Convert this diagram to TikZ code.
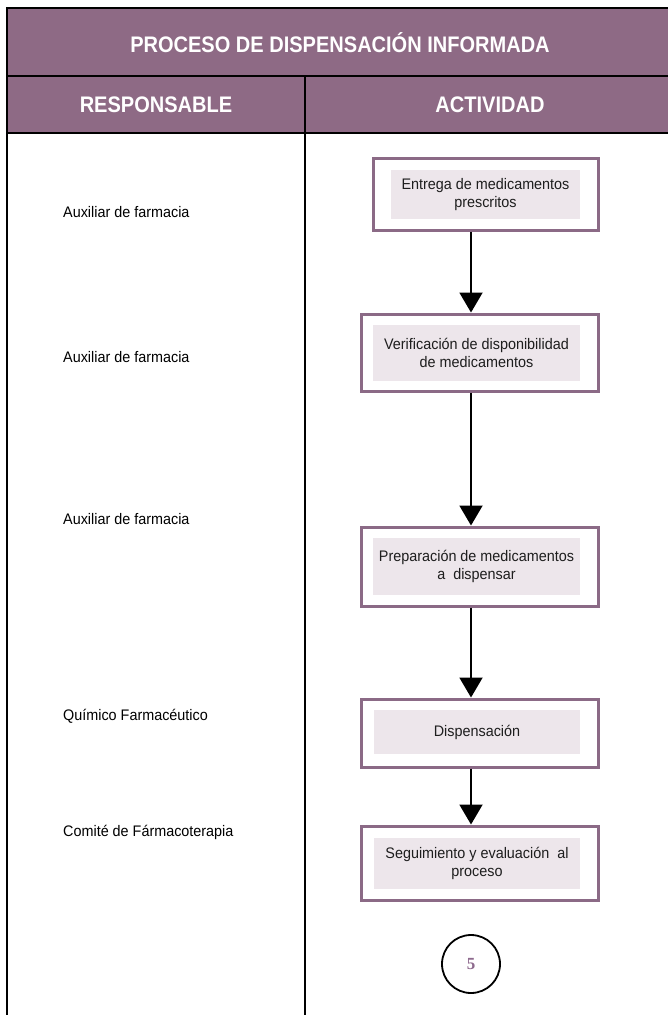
\documentclass[tikz,border=0pt]{standalone}
\usepackage{fontspec}
\setmainfont{Liberation Sans}
\newfontfamily\bodyfont[FakeStretch=0.94]{Liberation Sans}
\newfontfamily\headfont[FakeStretch=0.89]{Liberation Sans}
\newfontfamily\numfont{Liberation Serif}
\usetikzlibrary{arrows.meta}

\definecolor{headpurple}{RGB}{142,106,133}
\definecolor{framepurple}{RGB}{139,106,134}
\definecolor{innerfill}{RGB}{237,230,235}
\definecolor{textdark}{RGB}{30,30,30}
\definecolor{numpurple}{RGB}{142,106,142}

\tikzset{
  tableline/.style={line width=2.5pt, black},
  headtext/.style={text=white, font=\headfont\bfseries\fontsize{22.5}{27}\selectfont, inner sep=0pt},
  roletext/.style={anchor=west, text=black, font=\bodyfont\fontsize{15.3}{18}\selectfont, inner sep=0pt},
  stepframe/.style={draw=framepurple, line width=3pt, fill=white, inner sep=0pt},
  stepinner/.style={fill=innerfill, inner sep=0pt, align=center, text=textdark,
    font=\bodyfont\fontsize{15.3}{18.5}\selectfont},
  flowarrow/.style={line width=2pt, black, -{Triangle[width=23pt,length=20pt]}},
  pagemark/.style={circle, draw=black, line width=1.8pt, minimum size=58pt, inner sep=0pt,
    text=numpurple, font=\numfont\bfseries\fontsize{17}{20}\selectfont}
}

\begin{document}
\begin{tikzpicture}[x=1pt,y=-1pt]
  \clip (0,0) rectangle (668,1015);
  \fill[white] (0,0) rectangle (668,1015);

  % header band
  \fill[headpurple] (7,8) rectangle (700,133);
  \draw[tableline] (7,1030) -- (7,8) -- (700,8);
  \draw[tableline] (7,76) -- (700,76);
  \draw[tableline] (7,133) -- (700,133);
  \draw[tableline] (305,76) -- (305,1030);

  \node[headtext] (title) at (340,43) {PROCESO DE DISPENSACIÓN INFORMADA};
  \node[headtext] (resp) at (156,105) {RESPONSABLE};
  \node[headtext] (act) at (490,105) {ACTIVIDAD};

  % responsible roles
  \node[roletext] (r1) at (63,212) {Auxiliar de farmacia};
  \node[roletext] (r2) at (63,357) {Auxiliar de farmacia};
  \node[roletext] (r3) at (63,519) {Auxiliar de farmacia};
  \node[roletext] (r4) at (63,716) {Químico Farmacéutico};
  \node[roletext] (r5) at (63,832) {Comité de Fármacoterapia};

  % activity steps
  \node[stepframe, minimum width=225pt, minimum height=72pt] (b1) at (485.5,194) {};
  \node[stepinner, minimum width=189pt, minimum height=49pt] (t1) at (485.5,194.5)
    {Entrega de medicamentos\\prescritos};

  \node[stepframe, minimum width=237pt, minimum height=77pt] (b2) at (479.5,352.5) {};
  \node[stepinner, minimum width=207pt, minimum height=56pt] (t2) at (476.5,353)
    {Verificación de disponibilidad\\de medicamentos};

  \node[stepframe, minimum width=237pt, minimum height=79pt] (b3) at (479.5,566.5) {};
  \node[stepinner, minimum width=207pt, minimum height=57pt] (t3) at (476.5,566.5)
    {Preparación de medicamentos\\a\ \ dispensar};

  \node[stepframe, minimum width=237pt, minimum height=68pt] (b4) at (479.5,733) {};
  \node[stepinner, minimum width=206pt, minimum height=44pt] (t4) at (477,732)
    {Dispensación};

  \node[stepframe, minimum width=237pt, minimum height=74pt] (b5) at (479.5,863) {};
  \node[stepinner, minimum width=206pt, minimum height=51pt] (t5) at (477,863.5)
    {Seguimiento y evaluación\ \ al\\proceso};

  % connectors
  \coordinate (ax) at (471,0);
  \draw[flowarrow] (b1.south -| ax) -- (b2.north -| ax);
  \draw[flowarrow] (b2.south -| ax) -- (b3.north -| ax);
  \draw[flowarrow] (b3.south -| ax) -- (b4.north -| ax);
  \draw[flowarrow] (b4.south -| ax) -- (b5.north -| ax);

  % page marker
  \node[pagemark] (pg) at (471,964) {5};
\end{tikzpicture}
\end{document}
